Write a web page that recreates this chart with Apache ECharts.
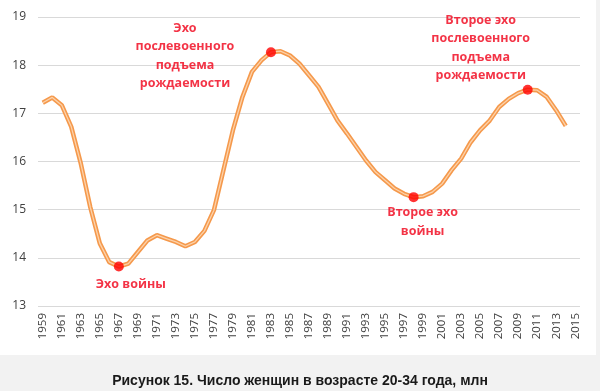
<!DOCTYPE html>
<html><head><meta charset="utf-8">
<script src="https://cdn.jsdelivr.net/npm/echarts@6/dist/echarts.min.js"></script>
<style>html,body{margin:0;padding:0;background:#f2f2f2}#c{width:600px;height:391px}</style>
</head><body><div id="c"></div>
<script>
const years = [];
for (let y = 1959; y <= 2015; y++) years.push(String(y));
const women = [17.22,17.33,17.17,16.72,15.96,15.05,14.30,13.91,13.82,13.88,14.12,14.36,14.47,14.40,14.33,14.24,14.33,14.56,14.99,15.82,16.65,17.34,17.86,18.10,18.27,18.29,18.20,18.03,17.79,17.55,17.20,16.85,16.58,16.30,16.02,15.78,15.61,15.44,15.33,15.26,15.28,15.37,15.54,15.82,16.06,16.40,16.65,16.85,17.13,17.30,17.42,17.49,17.48,17.34,17.06,16.74,null];
const markYears = ['1967','1983','1998','2010'];
const markTexts = ['Эхо войны','Эхо\nпослевоенного\nподъема\nрождаемости','Второе эхо\nвойны','Второе эхо\nпослевоенного\nподъема\nрождаемости'];
const markOffsets = [[12,18],[-86,4],[9,25],[-47,-42]];
const caption = 'Рисунок 15. Число женщин в возрасте 20-34 года, млн';

const chart = echarts.init(document.getElementById('c'));
const markData = markYears.map((y,i)=>({
  value:[y, women[years.indexOf(y)]],
  label:{offset:markOffsets[i], formatter:markTexts[i]}
}));
chart.setOption({
  backgroundColor:'#f2f2f2',
  animation:false,
  graphic:[{type:'rect', z:-100, silent:true, shape:{x:0,y:0,width:596,height:355}, style:{fill:'#ffffff'}}],
  title:{text:caption, left:'center', top:369, textStyle:{fontFamily:'Liberation Sans', fontWeight:'bold', fontSize:14, color:'#1a1a1a'}},
  grid:{left:38,right:20,top:17,bottom:85},
  xAxis:{type:'category', data:years, boundaryGap:true,
    axisLine:{show:false}, axisTick:{show:false},
    axisLabel:{interval:1, rotate:90, margin:7, fontFamily:'Open Sans', fontSize:11.5, color:'#404040'}},
  yAxis:{type:'value', min:13, max:19, interval:1,
    axisLine:{show:false}, axisTick:{show:false},
    splitLine:{lineStyle:{color:'#d9d9d9', width:1}},
    axisLabel:{margin:12, fontFamily:'Open Sans', fontSize:12, color:'#404040'}},
  series:[
    {type:'line', data:women, symbol:'none', smooth:false, lineStyle:{color:'#f5994c', width:4.5}, z:2},
    {type:'line', data:women, symbol:'none', smooth:false, lineStyle:{color:'#fcd2aa', width:1.3}, z:3},
    {type:'scatter', data:markData, symbolSize:10, itemStyle:{color:'#ff0000'}, z:4,
      label:{show:true, position:'inside', align:'center', verticalAlign:'middle',
        fontFamily:'Open Sans', fontWeight:'bold', fontSize:12.5, lineHeight:18.5, color:'#f00018'}}
  ]
});
</script></body></html>
